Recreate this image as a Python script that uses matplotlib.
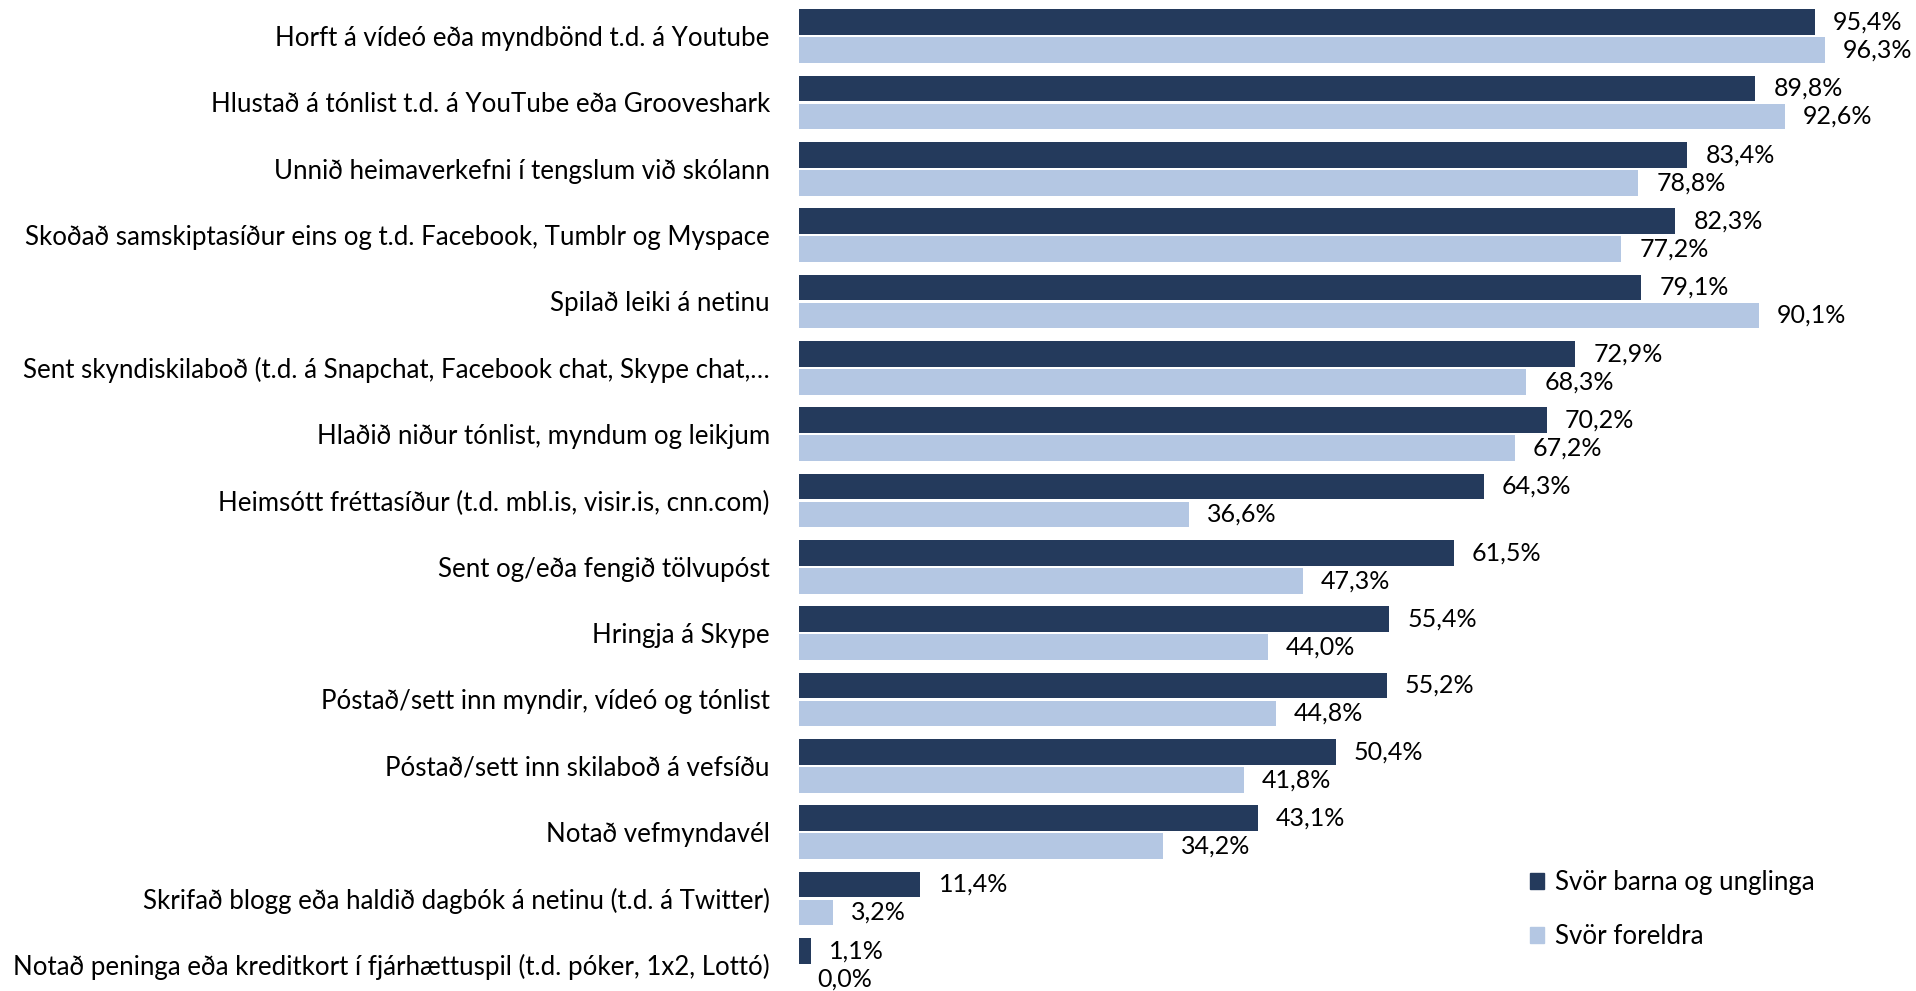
import numpy as np
import matplotlib
matplotlib.use('Agg')
import matplotlib.pyplot as plt
from matplotlib.patches import Patch

plt.rcParams['font.family'] = ['Lato', 'DejaVu Sans']

categories = [
    'Horft á vídeó eða myndbönd t.d. á Youtube',
    'Hlustað á tónlist t.d. á YouTube eða Grooveshark',
    'Unnið heimaverkefni í tengslum við skólann',
    'Skoðað samskiptasíður eins og t.d. Facebook, Tumblr og Myspace',
    'Spilað leiki á netinu',
    'Sent skyndiskilaboð (t.d. á Snapchat, Facebook chat, Skype chat,…',
    'Hlaðið niður tónlist, myndum og leikjum',
    'Heimsótt fréttasíður (t.d. mbl.is, visir.is, cnn.com)',
    'Sent og/eða fengið tölvupóst',
    'Hringja á Skype',
    'Póstað/sett inn myndir, vídeó og tónlist',
    'Póstað/sett inn skilaboð á vefsíðu',
    'Notað vefmyndavél',
    'Skrifað blogg eða haldið dagbók á netinu (t.d. á Twitter)',
    'Notað peninga eða kreditkort í fjárhættuspil (t.d. póker, 1x2, Lottó)',
]
born = [95.4, 89.8, 83.4, 82.3, 79.1, 72.9, 70.2, 64.3, 61.5, 55.4, 55.2, 50.4, 43.1, 11.4, 1.1]
foreldrar = [96.3, 92.6, 78.8, 77.2, 90.1, 68.3, 67.2, 36.6, 47.3, 44.0, 44.8, 41.8, 34.2, 3.2, 0.0]
series_names = ['Svör barna og unglinga', 'Svör foreldra']

dark = '#243a5c'
light = '#b4c7e3'
fs_val = 18
fs_cat = 18.6

W, H = 1916, 991
fig = plt.figure(figsize=(W / 100, H / 100), dpi=100)
ax = fig.add_axes([799 / W, -7 / H, 1065 / W, 995 / H])

y = np.arange(len(categories))
h = 0.39
off = 0.212
b1 = ax.barh(y - off, born, height=h, color=dark)
b2 = ax.barh(y + off, foreldrar, height=h, color=light)

def fmt(v):
    return f'{v:.1f}%'.replace('.', ',')

for bars, vals in ((b1, born), (b2, foreldrar)):
    for rect, v in zip(bars, vals):
        ax.annotate(fmt(v), (rect.get_width(), rect.get_y() + rect.get_height() / 2),
                    xytext=(13, 0), textcoords='offset points',
                    ha='left', va='center', fontsize=fs_val, color='black')

ax.set_xlim(0, 100)
ax.set_ylim(len(categories) - 0.5, -0.5)
ax.set_yticks(y)
ax.set_yticklabels(categories, fontsize=fs_cat)
ax.tick_params(axis='y', length=0, pad=21)
ax.set_xticks([])
for s in ax.spines.values():
    s.set_visible(False)

handles = [Patch(color=dark), Patch(color=light)]
fig.legend(handles, series_names, loc='upper left',
           bbox_to_anchor=(1530 / W, 1 - 870 / H), bbox_transform=fig.transFigure,
           frameon=False, fontsize=fs_cat, borderpad=0, borderaxespad=0,
           handlelength=0.55, handleheight=0.55, handletextpad=0.42,
           labelspacing=1.12)

fig.savefig('out.png', dpi=100)
